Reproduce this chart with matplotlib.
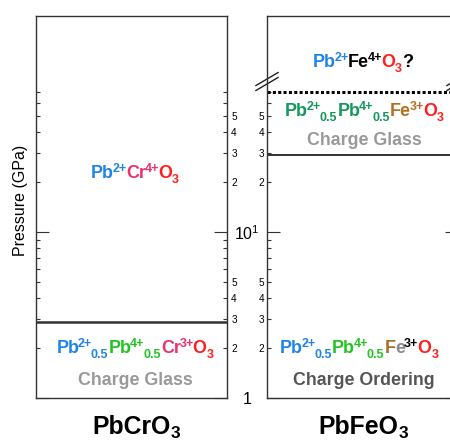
import matplotlib
matplotlib.use('Agg')
import matplotlib.pyplot as plt
from matplotlib.transforms import offset_copy
from matplotlib.ticker import FixedLocator, FixedFormatter, NullFormatter

plt.rcParams['font.family'] = ['Liberation Sans', 'DejaVu Sans']
plt.rcParams['mathtext.fontset'] = 'custom'
plt.rcParams['mathtext.rm'] = 'Liberation Sans'
plt.rcParams['mathtext.default'] = 'regular'

# pressure axis (GPa), log scale
y_range = [1, 200]
major_ticks = [1, 10]
major_labels = ['1', '$10^1$']
minor_ticks = [2, 3, 4, 5, 6, 7, 8, 9, 20, 30, 40, 50, 60, 70]
minor_labels = ['2', '3', '4', '5', '', '', '', '', '2', '3', '4', '5', '', '']

# phase boundaries (GPa)
cr_boundary = 2.85
fe_boundary = 29
fe_upper = 70

BLUE = '#1f84e6'
PINK = '#e8336e'
RED = '#ff1f1f'
GREEN = '#22c422'
TEAL = '#14985a'
BROWN = '#b5701f'
GREY = '#8a8a8a'

cr_high = [('Pb', BLUE, 'n'), ('2+', BLUE, 'sup'), ('Cr', PINK, 'n'), ('4+', PINK, 'sup'),
           ('O', RED, 'n'), ('3', RED, 'sub')]
cr_low = [('Pb', BLUE, 'n'), ('2+', BLUE, 'sup'), ('0.5', BLUE, 'sub'),
          ('Pb', GREEN, 'n'), ('4+', GREEN, 'sup'), ('0.5', GREEN, 'sub'),
          ('Cr', PINK, 'n'), ('3+', PINK, 'sup'), ('O', RED, 'n'), ('3', RED, 'sub')]
fe_high = [('Pb', BLUE, 'n'), ('2+', BLUE, 'sup'), ('Fe', 'k', 'n'), ('4+', 'k', 'sup'),
           ('O', RED, 'n'), ('3', RED, 'sub'), ('?', 'k', 'n')]
fe_mid = [('Pb', TEAL, 'n'), ('2+', TEAL, 'sup'), ('0.5', TEAL, 'sub'),
          ('Pb', TEAL, 'n'), ('4+', TEAL, 'sup'), ('0.5', TEAL, 'sub'),
          ('Fe', BROWN, 'n'), ('3+', BROWN, 'sup'), ('O', RED, 'n'), ('3', RED, 'sub')]
fe_low = [('Pb', BLUE, 'n'), ('2+', BLUE, 'sup'), ('0.5', BLUE, 'sub'),
          ('Pb', GREEN, 'n'), ('4+', GREEN, 'sup'), ('0.5', GREEN, 'sub'),
          ('F', '#a5702a', 'n'), ('e', GREY, 'n'), ('3+', 'k', 'sup'), ('O', RED, 'n'), ('3', RED, 'sub')]
title_cr = [('PbCrO', 'k', 'n'), ('3', 'k', 'sub')]
title_fe = [('PbFeO', 'k', 'n'), ('3', 'k', 'sub')]


def formula(ax, x, y, segs, size=12.9, small=9.0, up=4.2, down=-3.3):
    # draw coloured pieces one after the other, centred on x
    fig = ax.figure
    r = fig.canvas.get_renderer()
    k = fig.dpi / 72
    placed = []
    dx = 0
    for s, c, kind in segs:
        fs = size if kind == 'n' else small
        dy = {'n': 0, 'sup': up, 'sub': down}[kind]
        if kind == 'sup':
            dx -= 1.3
        t = ax.text(x, y, s, color=c, fontsize=fs, fontweight='bold',
                    ha='left', va='baseline', transform=ax.transAxes)
        placed.append((t, dx, dy))
        dx += t.get_window_extent(r).width
        if kind == 'sup':
            dx -= 1.0
    for t, ox, dy in placed:
        t.set_transform(offset_copy(ax.transAxes, fig, x=ox - dx / 2, y=dy * k, units='dots'))


fig = plt.figure(figsize=(4.5, 4.42), dpi=100)
axL = fig.add_axes([36 / 450, 44 / 442, 191 / 450, 382 / 442])
axR = fig.add_axes([267 / 450, 44 / 442, 191 / 450, 382 / 442])

for ax in (axL, axR):
    ax.set_yscale('log')
    ax.set_ylim(*y_range)
    ax.set_xlim(0, 1)
    ax.set_xticks([])
    ax.yaxis.set_major_locator(FixedLocator(major_ticks))
    ax.yaxis.set_minor_locator(FixedLocator(minor_ticks))
    ax.tick_params(which='major', direction='in', length=9.5, width=0.8,
                   left=True, right=True, color='#333333')
    ax.tick_params(which='minor', direction='in', length=3.2, width=0.8,
                   left=True, right=True, color='#333333')
    for sp in ax.spines.values():
        sp.set_color('#333333')
        sp.set_linewidth(1.0)

# left panel: labels on its right side (shared between panels)
axL.yaxis.set_major_formatter(FixedFormatter(major_labels))
axL.yaxis.set_minor_formatter(FixedFormatter(minor_labels))
axL.tick_params(which='both', labelleft=False, labelright=True)
axL.tick_params(which='major', labelsize=11.5, pad=14.4)
axL.tick_params(which='minor', labelsize=7.2, pad=3)
for tick in axL.yaxis.get_major_ticks():
    tick.label2.set_horizontalalignment('center')

axR.yaxis.set_major_formatter(NullFormatter())
axR.yaxis.set_minor_formatter(FixedFormatter(minor_labels))
axR.tick_params(which='both', labelleft=True, labelright=False)
axR.tick_params(which='minor', labelsize=7.2, pad=2)

# phase boundaries
axL.axhline(cr_boundary, color='#333333', lw=1.8)
axR.axhline(fe_boundary, color='#222222', lw=1.3)
axR.axhline(fe_upper, color='k', lw=2.2, linestyle=(0, (1, 0.75)))

# axis break marks on the right panel
for xs in (0, 1):
    for yc in (0.835, 0.822):
        axR.plot([xs - 0.058, xs + 0.058], [yc - 0.017, yc + 0.017], color='#222222',
                 lw=1.0, transform=axR.transAxes, clip_on=False)

fig.text(21 / 450, 1 - 200 / 442, 'Pressure (GPa)', rotation=90, ha='center',
         va='center', fontsize=11.5)

formula(axL, 0.518, 0.576, cr_high)
formula(axL, 0.518, 0.118, cr_low)
axL.text(0.518, 0.034, 'Charge Glass', color='#999999', fontsize=12.8,
         fontweight='bold', ha='center', va='baseline', transform=axL.transAxes)

formula(axR, 0.503, 0.866, fe_high)
formula(axR, 0.51, 0.738, fe_mid)
axR.text(0.508, 0.662, 'Charge Glass', color='#999999', fontsize=12.8,
         fontweight='bold', ha='center', va='baseline', transform=axR.transAxes)
formula(axR, 0.482, 0.118, fe_low)
axR.text(0.508, 0.034, 'Charge Ordering', color='#555555', fontsize=12.8,
         fontweight='bold', ha='center', va='baseline', transform=axR.transAxes)

formula(axL, 0.524, -0.094, title_cr, size=17.8, small=12.5, down=-2.6)
formula(axR, 0.505, -0.094, title_fe, size=17.8, small=12.5, down=-2.6)

fig.savefig('out.png', dpi=100)
